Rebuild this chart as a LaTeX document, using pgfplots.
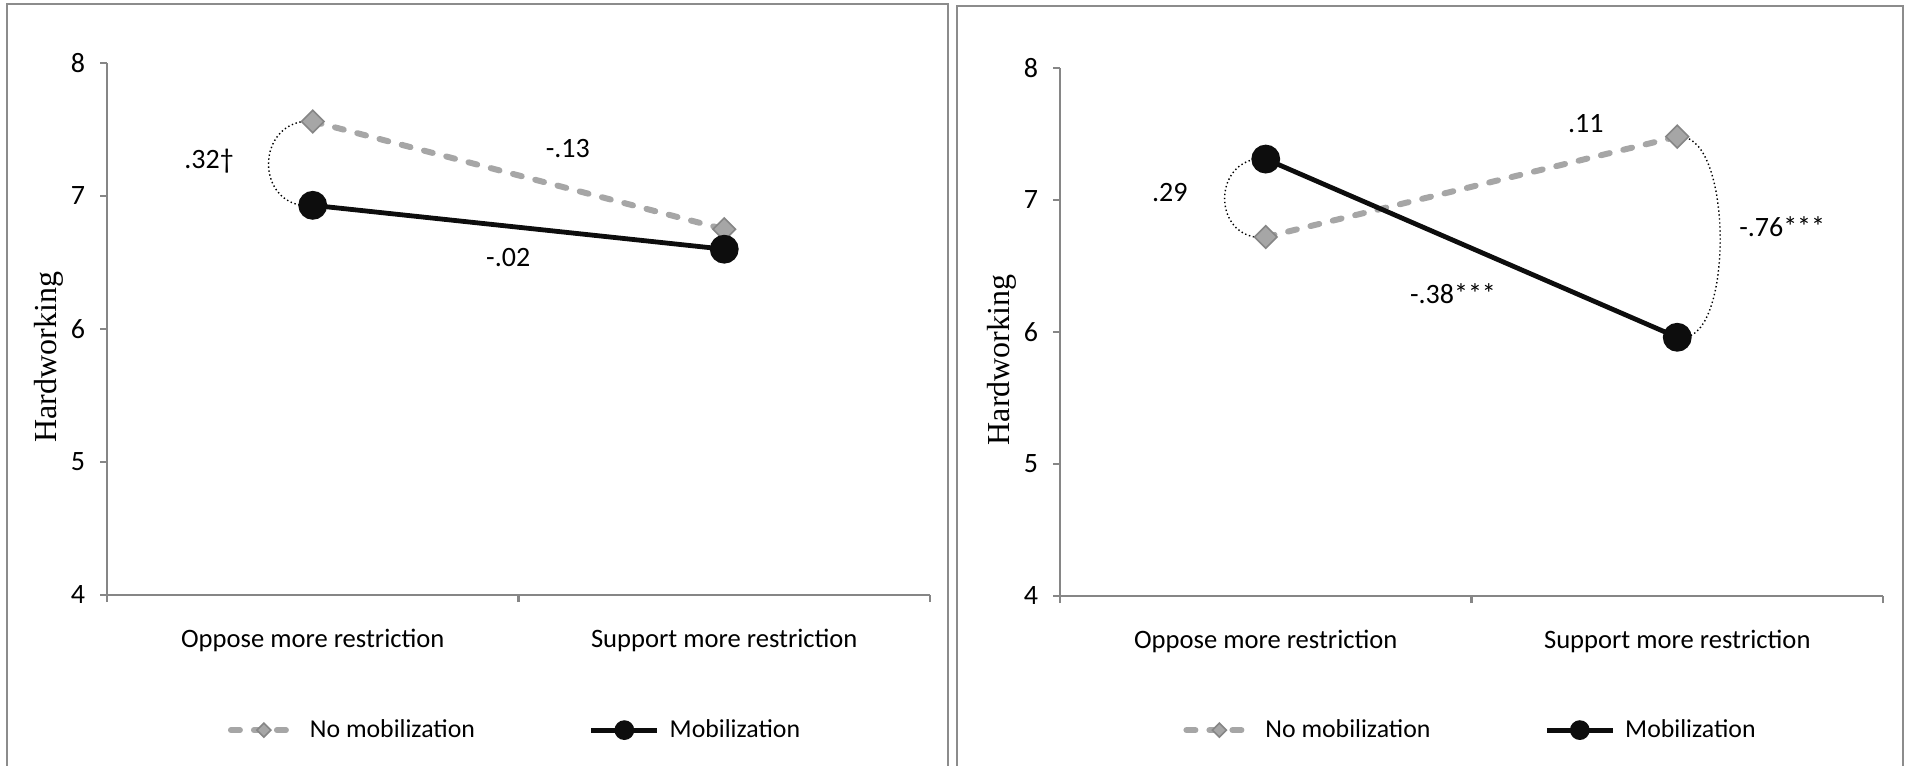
\documentclass[border=0pt]{standalone}
\usepackage{pgfplots}
\pgfplotsset{compat=1.18}
\usepackage{fontspec}
\setmainfont{Carlito}
\newfontfamily\timesfont{Liberation Serif}
\definecolor{axgray}{HTML}{868686}
\definecolor{lgray}{HTML}{A6A6A6}
\definecolor{fgray}{HTML}{8C8C8C}
\tikzset{
  dots/.style={black, line width=0.7bp, dash pattern=on 0.7bp off 1.3bp},
  ann/.style={font=\fontsize{14bp}{16bp}\selectfont},
}
\pgfplotsset{
  panel/.style={
    scale only axis, width=411.5bp,
    xmin=0, xmax=2, ymin=4, ymax=8,
    axis lines*=left,
    axis line style={axgray, line width=1.1bp},
    xtick={0.5,1.5},
    xticklabels={Oppose more restriction, Support more restriction},
    minor xtick={0,1,2},
    ytick={4,5,6,7,8},
    tick align=outside,
    major tick length=3.5bp, minor tick length=3.5bp,
    tick style={axgray, line width=1.1bp},
    major x tick style={draw=none},
    /pgf/number format/assume math mode=true,
    yticklabel style={font=\fontsize{14bp}{16bp}\selectfont, xshift=-4bp},
    xticklabel style={font=\fontsize{13.3bp}{15bp}\selectfont, anchor=center, yshift=-19bp},
    ylabel={\timesfont Hardworking},
    ylabel style={font=\fontsize{16bp}{18bp}\selectfont, at={(rel axis cs:-0.0705,0.447)}, anchor=center},
    clip=false,
    legend columns=2,
    legend style={draw=none, fill=none, font=\fontsize{12.9bp}{15bp}\selectfont,
      /tikz/every odd column/.append style={column sep=3bp},
      /tikz/every even column/.append style={column sep=55bp}, anchor=center},
    legend image code/.code={\draw[mark repeat=2,mark phase=2,##1, every mark/.append style={scale=0.62}] plot coordinates {(0bp,0bp) (16.5bp,0bp) (33bp,0bp)};},
  },
  nomob/.style={lgray, line width=3bp, line cap=round, dash pattern=on 4.5bp off 7bp,
    mark=square*, mark size=4bp, mark options={solid, rotate=45, fill=lgray, draw=axgray, line width=0.8bp}},
  mob/.style={black!95, line width=2.4bp, mark=*, mark size=6bp, mark options={solid, fill=black!95}},
}
\begin{document}
\begin{tikzpicture}
\useasboundingbox (0,0) rectangle (953.5bp,383bp);
\draw[fgray, line width=1.2bp] (3.5bp,0) -- (3.5bp,381bp) -- (474bp,381bp) -- (474bp,0);
\draw[fgray, line width=1.2bp] (478.5bp,0) -- (478.5bp,380bp) -- (951.5bp,380bp) -- (951.5bp,0);
\begin{axis}[panel, height=266bp, at={(53.5bp,85.5bp)}, anchor=south west,
  legend style={at={(0.497,-0.254)}}]
\addplot[nomob] coordinates {(0.5,7.56) (1.5,6.75)};
\addlegendentry{No mobilization}
\addplot[mob] coordinates {(0.5,6.93) (1.5,6.60)};
\addlegendentry{Mobilization}
\draw[dots] (axis cs:0.49,7.565) .. controls (axis cs:0.36,7.55) and (axis cs:0.36,6.93) .. (axis cs:0.49,6.925);
\node[ann] at (axis cs:0.248,7.26) {.32†};
\node[ann] at (axis cs:1.12,7.36) {-.13};
\node[ann] at (axis cs:0.975,6.54) {-.02};
\end{axis}
\begin{axis}[panel, height=264bp, at={(530bp,85bp)}, anchor=south west,
  legend style={at={(0.5,-0.254)}}]
\addplot[nomob] coordinates {(0.5,6.72) (1.5,7.48)};
\addlegendentry{No mobilization}
\addplot[mob] coordinates {(0.5,7.31) (1.5,5.96)};
\addlegendentry{Mobilization}
\draw[dots] (axis cs:0.49,7.315) .. controls (axis cs:0.37,7.30) and (axis cs:0.37,6.72) .. (axis cs:0.49,6.715);
\draw[dots] (axis cs:1.51,7.48) .. controls (axis cs:1.635,7.45) and (axis cs:1.635,5.97) .. (axis cs:1.515,5.96);
\node[ann] at (axis cs:0.267,7.06) {.29};
\node[ann] at (axis cs:1.278,7.58) {.11};
\node[ann] at (axis cs:0.955,6.29) {-.38***};
\node[ann] at (axis cs:1.755,6.80) {-.76***};
\end{axis}
\end{tikzpicture}
\end{document}
